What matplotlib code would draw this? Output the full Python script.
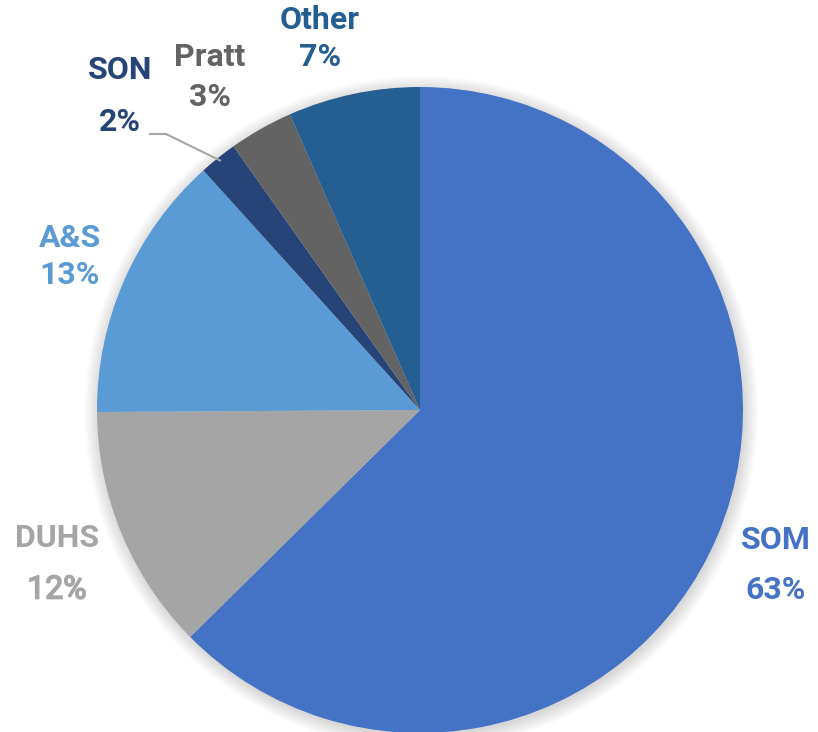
import numpy as np
import matplotlib.pyplot as plt
import matplotlib.patheffects as pe
from matplotlib.patches import Circle

labels = ['SOM', 'DUHS', 'A&S', 'SON', 'Pratt', 'Other']
shares = [62.6, 12.3, 13.4, 1.9, 3.2, 6.6]
colors = ['#4472C4', '#A5A5A5', '#5B9BD5', '#264478', '#636363', '#255E91']

# label anchors in pixel coords (x, y from top) and line gap, layout only
label_px = [(776, 540), (57, 538), (70, 238), (120, 70), (210, 57), (320, 20)]
label_gap = [50, 52, 37, 52, 40, 37]
pct_bold = [True, False, True, True, True, True]

plt.rcParams['font.family'] = ['Roboto', 'DejaVu Sans']

W, H = 818, 732
cx, cy, R = 420, 410, 323

fig = plt.figure(figsize=(W / 100, H / 100), dpi=100)
ax = fig.add_axes([0, 0, 1, 1])


def px(x, y):
    return (x - cx) / R, (cy - y) / R


# soft shadow behind the pie
for i in range(8):
    ax.add_patch(Circle((0.004, -0.008), 1.0 + 0.006 * i, color='black',
                        alpha=0.018, lw=0, zorder=0))

wedges, _ = ax.pie(shares, colors=colors, startangle=90, counterclock=False,
                   radius=1.0, wedgeprops=dict(linewidth=0))
for w in wedges:
    w.set_zorder(2)

ax.set_xlim(-cx / R, (W - cx) / R)
ax.set_ylim((cy - H) / R, cy / R)
ax.set_aspect('equal')
ax.axis('off')

for i, lab in enumerate(labels):
    x, y = px(*label_px[i])
    ax.text(x, y, lab, color=colors[i], fontsize=23, fontweight='bold',
            ha='center', va='center', zorder=3)
    x2, y2 = px(label_px[i][0], label_px[i][1] + label_gap[i])
    pct = f'{int(round(shares[i]))}%'
    if pct_bold[i]:
        ax.text(x2, y2, pct, color=colors[i], fontsize=23,
                fontweight='bold', ha='center', va='center', zorder=3)
    else:
        ax.text(x2, y2, pct, color=colors[i], fontsize=23,
                ha='center', va='center', zorder=3,
                path_effects=[pe.withStroke(linewidth=1.2,
                                            foreground=colors[i])])

# leader line for SON
son = wedges[3]
mid = np.deg2rad((son.theta1 + son.theta2) / 2)
ex, ey = np.cos(mid) * 0.99, np.sin(mid) * 0.99
x0, y0 = px(150, 134)
x1, y1 = px(166, 134)
ax.plot([x0, x1, ex], [y0, y1, ey], color='#A5A5A5', lw=1.5, zorder=3)

fig.savefig('out.png', dpi=100)
